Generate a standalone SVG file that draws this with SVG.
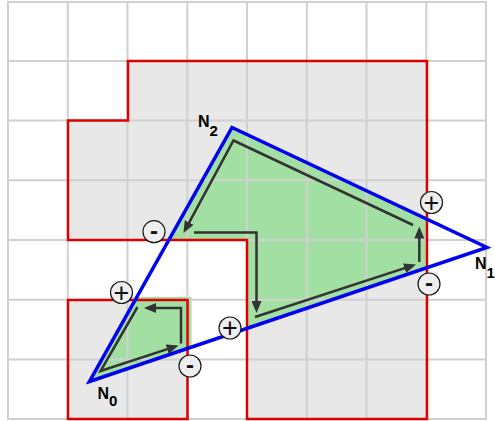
<svg xmlns="http://www.w3.org/2000/svg" width="495" height="421" viewBox="0 0 495 421">
  <style>
    .grid line { stroke: #d0d0d0; stroke-width: 2; }
    .region { fill: #e8e8e8; }
    .redline { fill: none; stroke: #dd0000; stroke-width: 2.5; }
    .tri { fill: none; stroke: #0000f0; stroke-width: 3.5; stroke-linejoin: miter; }
    .arr { fill: none; stroke: #333333; stroke-width: 2.5; marker-end: url(#ah); }
    .sign circle { fill: #eeeeee; stroke: #1a1a1a; stroke-width: 1.2; }
    .plus { font-family: "Liberation Sans", Arial, sans-serif; font-size: 27px; fill: #111; text-anchor: middle; }
    .minus { font-family: "Liberation Sans", Arial, sans-serif; font-size: 24px; font-weight: bold; fill: #111; text-anchor: middle; }
    .lbl { font-family: "Liberation Sans", Arial, sans-serif; font-size: 16px; font-weight: bold; fill: #000; }
    .sub { font-size: 15px; }
  </style>
  <defs>
    <marker id="ah" markerUnits="userSpaceOnUse" markerWidth="12" markerHeight="10" refX="9" refY="5" orient="auto">
      <path d="M0,0 L12,5 L0,10 Z" fill="#333333"/>
    </marker>
    <clipPath id="triClip">
      <polygon points="89.5,381.5 487,247.5 232,127.5"/>
    </clipPath>
  </defs>
  <rect width="495" height="421" fill="#ffffff"/>

  <g id="regions">
    <path class="region" d="M128,61 H427 V419 H247 V240 H68 V120.5 H128 Z"/>
    <path class="region" d="M68,300 H187.5 V419 H68 Z"/>
  </g>

  <g id="green" clip-path="url(#triClip)" fill="#a2dfa2">
    <path d="M128,61 H427 V419 H247 V240 H68 V120.5 H128 Z"/>
    <path d="M68,297 H191.5 V419 H68 Z"/>
  </g>

  <g id="grid" class="grid">
    <line x1="8" y1="1" x2="8" y2="420"/>
    <line x1="67.8" y1="1" x2="67.8" y2="420"/>
    <line x1="127.5" y1="1" x2="127.5" y2="420"/>
    <line x1="187.3" y1="1" x2="187.3" y2="420"/>
    <line x1="247" y1="1" x2="247" y2="420"/>
    <line x1="306.8" y1="1" x2="306.8" y2="420"/>
    <line x1="366.5" y1="1" x2="366.5" y2="420"/>
    <line x1="426.3" y1="1" x2="426.3" y2="420"/>
    <line x1="486" y1="1" x2="486" y2="420"/>
    <line x1="7" y1="2" x2="487" y2="2"/>
    <line x1="7" y1="61" x2="487" y2="61"/>
    <line x1="7" y1="120.5" x2="487" y2="120.5"/>
    <line x1="7" y1="180.2" x2="487" y2="180.2"/>
    <line x1="7" y1="240" x2="487" y2="240"/>
    <line x1="7" y1="299.8" x2="487" y2="299.8"/>
    <line x1="7" y1="359.5" x2="487" y2="359.5"/>
    <line x1="7" y1="419" x2="487" y2="419"/>
  </g>

  <g id="outline">
    <path class="redline" d="M128,61 H427 V419 H247 V240 H68 V120.5 H128 Z"/>
    <path class="redline" d="M68,300 H187.5 V419 H68 Z"/>
  </g>

  <g id="triangle">
    <polygon class="tri" points="89.5,381.5 487,247.5 232,127.5"/>
  </g>

  <g id="connectors">
    <polyline class="arr" points="413,225 233.5,140.5 184.9,230.4"/>
    <polyline class="arr" points="194,232.5 256.5,232.5 256.5,310"/>
    <polyline class="arr" points="255,317 413.1,265.4"/>
    <polyline class="arr" points="419.3,262 419.3,229.5"/>
    <polyline class="arr" points="137.5,307 100.5,371 175.7,346.4"/>
    <polyline class="arr" points="181,343.5 181,308 147,308"/>
  </g>

  <g id="signs" class="sign">
    <g id="s1"><circle cx="154" cy="231.7" r="11"/><text class="minus" x="154" y="238.7">-</text></g>
    <g id="s2"><circle cx="121.5" cy="292.5" r="11"/><text class="plus" x="121.5" y="301.5">+</text></g>
    <g id="s3"><circle cx="190" cy="366" r="11"/><text class="minus" x="190" y="373">-</text></g>
    <g id="s4"><circle cx="230" cy="328" r="11"/><text class="plus" x="230" y="337">+</text></g>
    <g id="s5"><circle cx="431.5" cy="202.5" r="11"/><text class="plus" x="431.5" y="211.5">+</text></g>
    <g id="s6"><circle cx="429" cy="284" r="11"/><text class="minus" x="429" y="291">-</text></g>
  </g>

  <g id="labels">
    <g id="N0"><text class="lbl" x="97.5" y="398.5">N<tspan class="sub" dy="7">0</tspan></text></g>
    <g id="N1"><text class="lbl" x="475" y="268.5">N<tspan class="sub" dy="9">1</tspan></text></g>
    <g id="N2"><text class="lbl" x="198" y="127">N<tspan class="sub" dy="9">2</tspan></text></g>
  </g>
</svg>
